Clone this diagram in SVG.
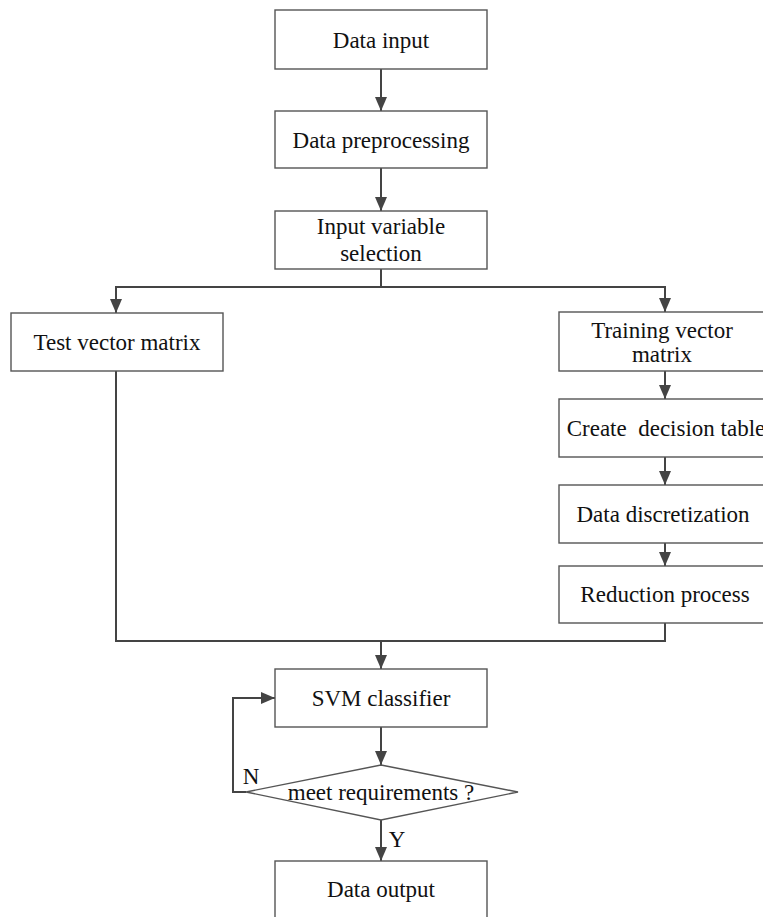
<svg xmlns="http://www.w3.org/2000/svg" width="763" height="917" viewBox="0 0 763 917">
<style>
.box{fill:#fff;stroke:#555;stroke-width:1.4}
.t{font-family:"Liberation Serif","Times New Roman",serif;font-size:23px;fill:#111;text-anchor:middle}
.c{fill:none;stroke:#444;stroke-width:2}
</style>
<defs>
<marker id="ah" markerWidth="14" markerHeight="12" refX="14" refY="6" orient="auto" markerUnits="userSpaceOnUse">
<path d="M0,0 L14,6 L0,12 Z" fill="#444"/>
</marker>
</defs>
<rect width="763" height="917" fill="#fff"/>
<g id="connectors">
<path class="c" d="M381,69 V111" marker-end="url(#ah)"/>
<path class="c" d="M381,168 V211" marker-end="url(#ah)"/>
<path class="c" d="M381,269 V287"/>
<path class="c" d="M381,287 H116 V313" marker-end="url(#ah)"/>
<path class="c" d="M381,287 H665 V312" marker-end="url(#ah)"/>
<path class="c" d="M665,371 V399" marker-end="url(#ah)"/>
<path class="c" d="M665,457 V485" marker-end="url(#ah)"/>
<path class="c" d="M665,543 V566" marker-end="url(#ah)"/>
<path class="c" d="M665,623 V641 H116 V371"/>
<path class="c" d="M381,641 V669" marker-end="url(#ah)"/>
<path class="c" d="M381,727 V765" marker-end="url(#ah)"/>
<path class="c" d="M246,792 H233 V698 H275" marker-end="url(#ah)"/>
<path class="c" d="M381,820 V861" marker-end="url(#ah)"/>
<text class="t" x="251" y="784">N</text>
<text class="t" x="397" y="847">Y</text>
</g>
<g id="data-input"><rect class="box" x="275" y="10" width="212" height="59"/><text class="t" x="381" y="48">Data input</text></g>
<g id="data-preprocessing"><rect class="box" x="275" y="111" width="212" height="57"/><text class="t" x="381" y="148">Data preprocessing</text></g>
<g id="input-variable-selection"><rect class="box" x="275" y="211" width="212" height="58"/><text class="t" x="381" y="234">Input variable</text><text class="t" x="381" y="261">selection</text></g>
<g id="test-vector-matrix"><rect class="box" x="11" y="313" width="212" height="58"/><text class="t" x="117" y="350">Test vector matrix</text></g>
<g id="training-vector-matrix"><rect class="box" x="559" y="312" width="212" height="59"/><text class="t" x="662" y="338">Training vector</text><text class="t" x="662" y="362">matrix</text></g>
<g id="create-decision-table"><rect class="box" x="559" y="399" width="212" height="58"/><text class="t" x="666" y="436" xml:space="preserve">Create  decision table</text></g>
<g id="data-discretization"><rect class="box" x="559" y="485" width="212" height="58"/><text class="t" x="663" y="522">Data discretization</text></g>
<g id="reduction-process"><rect class="box" x="559" y="566" width="212" height="57"/><text class="t" x="665" y="602">Reduction process</text></g>
<g id="svm-classifier"><rect class="box" x="275" y="669" width="212" height="58"/><text class="t" x="381" y="706">SVM classifier</text></g>
<g id="meet-requirements"><polygon class="box" points="381,765 518,792 381,820 246,792"/><text class="t" x="381" y="800">meet requirements ?</text></g>
<g id="data-output"><rect class="box" x="275" y="861" width="212" height="70"/><text class="t" x="381" y="897">Data output</text></g>
</svg>
